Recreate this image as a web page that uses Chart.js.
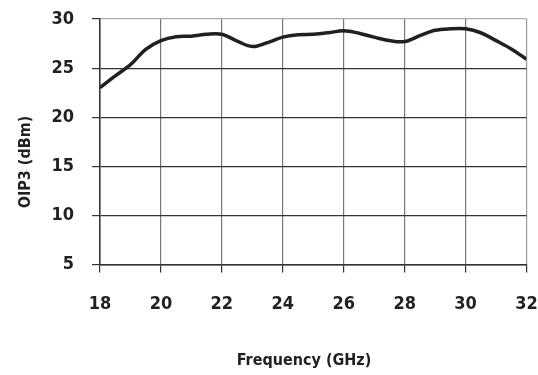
<!DOCTYPE html>
<html>
<head>
<meta charset="utf-8">
<script src="https://cdn.jsdelivr.net/npm/chart.js@4"></script>
<style>
  html, body { margin: 0; padding: 0; background: #fff; }
  #wrap { width: 538px; height: 375px; position: relative; }
</style>
</head>
<body>
<div id="wrap"><canvas id="chart"></canvas></div>
<script>
const freqGHz = [18, 18.5, 19, 19.5, 20, 20.5, 21, 21.5, 22, 22.5, 23, 23.5, 24, 24.5, 25, 25.5, 26, 26.5, 27, 27.5, 28, 28.5, 29, 29.5, 30, 30.5, 31, 31.5, 32];
const oip3 = [23.0, 24.2, 25.35, 26.9, 27.8, 28.2, 28.25, 28.45, 28.45, 27.75, 27.2, 27.6, 28.15, 28.4, 28.45, 28.6, 28.8, 28.55, 28.15, 27.8, 27.7, 28.3, 28.85, 29.0, 29.0, 28.6, 27.8, 26.95, 25.9];
const xTicks = [18, 20, 22, 24, 26, 28, 30, 32];
const yTicks = [5, 10, 15, 20, 25, 30];
const xTitle = "Frequency (GHz)";
const yTitle = "OIP3 (dBm)";

const FONT = '"DejaVu Sans", sans-serif';
const WEIGHT = "bold condensed"; // goes into the canvas font shorthand

// axis titles drawn by hand so they sit where the original puts them
const axisTitles = {
  id: "axisTitles",
  afterDraw(chart) {
    const ctx = chart.ctx;
    ctx.save();
    ctx.fillStyle = "#231f20";
    ctx.font = `${WEIGHT} 16px ${FONT}`;
    ctx.textAlign = "center";
    ctx.textBaseline = "middle";
    ctx.fillText(xTitle, 304, 361);
    ctx.translate(26, 162);
    ctx.rotate(-Math.PI / 2);
    ctx.fillText(yTitle, 0, 0);
    ctx.restore();
  }
};

new Chart(document.getElementById("chart").getContext("2d"), {
  type: "line",
  data: {
    datasets: [{
      data: freqGHz.map((f, i) => ({ x: f, y: oip3[i] })),
      borderColor: "#231f20",
      borderWidth: 3.5,
      pointRadius: 0,
      tension: 0.35,
      fill: false
    }]
  },
  options: {
    responsive: true,
    maintainAspectRatio: false,
    animation: false,
    layout: { padding: { left: 0, right: 11.5, top: 19, bottom: 0 } },
    plugins: { legend: { display: false }, tooltip: { enabled: false } },
    scales: {
      x: {
        type: "linear",
        min: 18,
        max: 32,
        afterBuildTicks: s => { s.ticks = xTicks.map(v => ({ value: v })); },
        afterFit: s => { s.height = 110.5; s.paddingLeft = 0; s.paddingRight = 0; },
        border: { color: "#333", width: 1.5 },
        grid: {
          color: ctx => ctx.tick && ctx.tick.value === 32 ? "#999" : "#777",
          tickColor: "#333",
          tickLength: 8,
          lineWidth: 1.2
        },
        ticks: {
          color: "#231f20",
          padding: 21,
          maxRotation: 0,
          font: { family: FONT, size: 18, weight: WEIGHT }
        }
      },
      y: {
        min: 5,
        max: 30,
        afterBuildTicks: s => { s.ticks = yTicks.map(v => ({ value: v })); },
        afterFit: s => { s.width = 100; s.paddingTop = 0; s.paddingBottom = 0; },
        border: { color: "#333", width: 1.5 },
        grid: {
          color: ctx => ctx.tick && ctx.tick.value === 30 ? "#aaa" : "#333",
          tickColor: "#333",
          tickLength: 8,
          lineWidth: 1.2
        },
        ticks: {
          color: "#231f20",
          padding: 18,
          font: { family: FONT, size: 18, weight: WEIGHT }
        }
      }
    }
  },
  plugins: [axisTitles]
});
</script>
</body>
</html>
